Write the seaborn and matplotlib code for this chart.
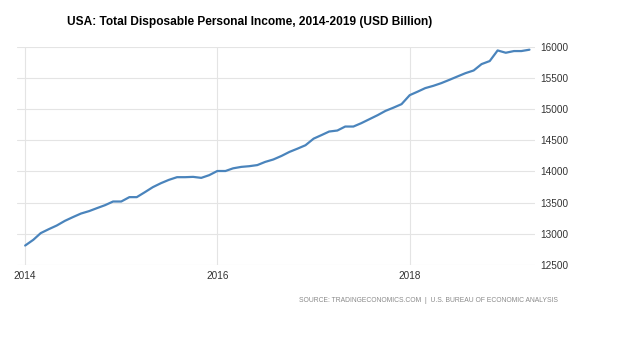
import matplotlib
matplotlib.use("Agg")
import matplotlib.pyplot as plt
import matplotlib.dates as mdates
import seaborn as sns
import pandas as pd
from matplotlib import font_manager

# ---- data (USD billion, monthly Jan 2014 - Apr 2019) ----
start_month = "2014-01-01"
income = [
    12812, 12904, 13011, 13075, 13133, 13208, 13267, 13325, 13364, 13412, 13460, 13518,
    13518, 13588, 13588, 13668, 13748, 13812, 13865, 13908, 13908, 13913, 13897, 13940,
    14007, 14007, 14050, 14073, 14084, 14102, 14153, 14192, 14249, 14313, 14366, 14420,
    14526, 14585, 14640, 14656, 14720, 14720, 14774, 14838, 14902, 14971, 15024, 15079,
    15223, 15281, 15336, 15373, 15416, 15469, 15522, 15576, 15619, 15721, 15770, 15940,
    15903, 15930, 15930, 15952,
]
year_ticks = ["2014", "2016", "2018"]
y_ticks = [12500, 13000, 13500, 14000, 14500, 15000, 15500, 16000]
title = "USA: Total Disposable Personal Income, 2014-2019 (USD Billion)"
source = "SOURCE: TRADINGECONOMICS.COM  |  U.S. BUREAU OF ECONOMIC ANALYSIS"

df = pd.DataFrame({
    "date": pd.date_range(start_month, periods=len(income), freq="MS"),
    "income": income,
})

sns.set_theme(style="white")
plt.rcParams["font.family"] = ["Liberation Sans", "DejaVu Sans"]

names = {f.name for f in font_manager.fontManager.ttflist}
if "Liberation Sans Narrow" in names:
    title_family, title_size = ["Liberation Sans Narrow", "Liberation Sans"], 10.4
else:
    title_family, title_size = ["Liberation Sans", "DejaVu Sans"], 8.6

fig = plt.figure(figsize=(6.44, 3.40), dpi=100)
ax = fig.add_axes([17 / 644, 1 - 265 / 340, (535 - 17) / 644, (265 - 46.7) / 340])

sns.lineplot(data=df, x="date", y="income", ax=ax, color="#4a84bc", linewidth=1.6)

ax.set_ylim(12500, 16000)
ax.set_xlim(pd.Timestamp("2013-12-01"), pd.Timestamp("2019-04-22"))
ax.set_yticks(y_ticks)
ax.set_yticklabels([str(v) for v in y_ticks])
ax.set_xticks([pd.Timestamp(f"{y}-01-01") for y in year_ticks])
ax.set_xticklabels(year_ticks)

ax.yaxis.tick_right()
ax.tick_params(axis="y", length=0, pad=4, labelsize=7.2, labelcolor="#333333")
ax.tick_params(axis="x", length=0, pad=4, labelsize=7.2, labelcolor="#333333")
ax.set_xlabel("")
ax.set_ylabel("")

ax.grid(True, color="#e4e4e4", linewidth=0.8)
for s in ax.spines.values():
    s.set_visible(False)

fig.text(250 / 644, 1 - 22 / 340, title, ha="center", va="center",
         fontsize=title_size, fontweight="bold", color="black", family=title_family)
fig.text(558 / 644, 1 - 300 / 340, source, ha="right", va="center",
         fontsize=4.85, color="#8a8a8a")

fig.savefig("out.png", dpi=100)
